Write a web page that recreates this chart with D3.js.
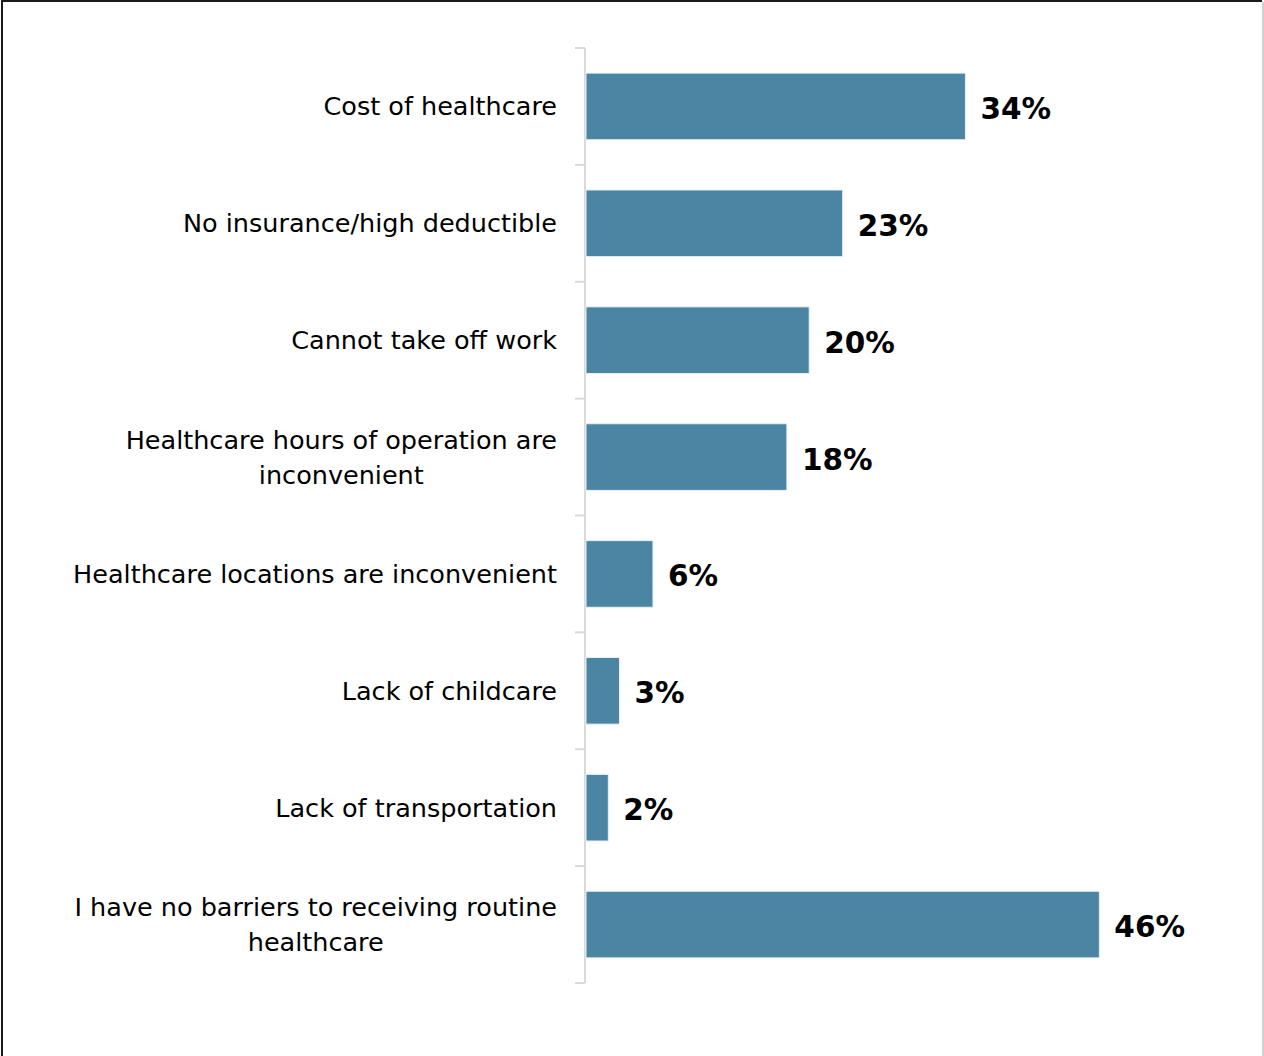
<!DOCTYPE html>
<html>
<head>
<meta charset="utf-8">
<script src="https://cdn.jsdelivr.net/npm/d3@7"></script>
<style>
  html, body { margin: 0; padding: 0; background: #fff; }
  svg { display: block; }
</style>
</head>
<body>
<svg id="chart" width="1264" height="1056"></svg>
<script>
// Barriers to receiving routine healthcare (share of respondents)
const categories = [
  ["Cost of healthcare"],
  ["No insurance/high deductible"],
  ["Cannot take off work"],
  ["Healthcare hours of operation are", "inconvenient"],
  ["Healthcare locations are inconvenient"],
  ["Lack of childcare"],
  ["Lack of transportation"],
  ["I have no barriers to receiving routine", "healthcare"]
];
const values = [34, 23, 20, 18, 6, 3, 2, 46];
const valueLabels = ["34%", "23%", "20%", "18%", "6%", "3%", "2%", "46%"];

const svg = d3.select("#chart");
const W = 1264, H = 1056;
const font = "'DejaVu Sans', Verdana, sans-serif";

// outer frame: dark left/top edges, light right edge
svg.append("line").attr("x1", 2).attr("x2", 2).attr("y1", 0).attr("y2", H)
  .attr("stroke", "#1a1a1a").attr("stroke-width", 2);
svg.append("line").attr("x1", 1).attr("x2", W - 2).attr("y1", 1).attr("y2", 1)
  .attr("stroke", "#1a1a1a").attr("stroke-width", 2);
svg.append("line").attr("x1", W - 1).attr("x2", W - 1).attr("y1", 2).attr("y2", H)
  .attr("stroke", "#d0d0d0").attr("stroke-width", 2);

const x0 = 585;
const x = d3.scaleLinear().domain([0, 50]).range([x0, x0 + 558]);
const y = d3.scaleBand().domain(d3.range(categories.length)).range([48, 983]).paddingInner(0.43).paddingOuter(0.215);

// category axis with tick marks at band edges
const edges = d3.range(categories.length + 1).map(i => 48 + i * (983 - 48) / categories.length);
const axisG = svg.append("g");
axisG.append("line").attr("x1", x0).attr("x2", x0).attr("y1", edges[0]).attr("y2", edges[edges.length - 1])
  .attr("stroke", "#d9d9d9").attr("stroke-width", 2);
axisG.selectAll("line.tick").data(edges).join("line").attr("class", "tick")
  .attr("x1", x0 - 10).attr("x2", x0).attr("y1", d => d).attr("y2", d => d)
  .attr("stroke", "#d9d9d9").attr("stroke-width", 2);

// bars
svg.selectAll("rect.bar").data(values).join("rect").attr("class", "bar")
  .attr("x", x(0) + 1)
  .attr("y", (d, i) => y(i))
  .attr("width", d => x(d) - x(0))
  .attr("height", y.bandwidth())
  .attr("fill", "#4a86a4")
  .attr("stroke", "#e8f0f4").attr("stroke-width", 1);

// value labels
svg.selectAll("text.val").data(values).join("text").attr("class", "val")
  .attr("x", d => x(d) + 16)
  .attr("y", (d, i) => y(i) + y.bandwidth() / 2 + 4)
  .attr("dominant-baseline", "middle")
  .attr("font-family", font).attr("font-weight", "bold").attr("font-size", 29.5)
  .attr("fill", "#000")
  .text((d, i) => valueLabels[i]);

// category labels: block right-aligned, lines centred on each other
const labelRight = 557;
const fs = 25.5;
const lineH = 35;
const labels = svg.selectAll("g.lab").data(categories).join("g").attr("class", "lab");
labels.each(function (lines, i) {
  const g = d3.select(this);
  const cy = y(i) + y.bandwidth() / 2 + 2;
  const texts = lines.map((s, k) => g.append("text")
    .attr("font-family", font).attr("font-size", fs).attr("fill", "#000")
    .attr("dominant-baseline", "middle")
    .attr("y", cy + (k - (lines.length - 1) / 2) * lineH)
    .text(s));
  const widths = texts.map(t => t.node().getComputedTextLength());
  const maxW = d3.max(widths);
  const center = labelRight - maxW / 2;
  texts.forEach(t => t.attr("text-anchor", "middle").attr("x", center));
});
</script>
</body>
</html>
